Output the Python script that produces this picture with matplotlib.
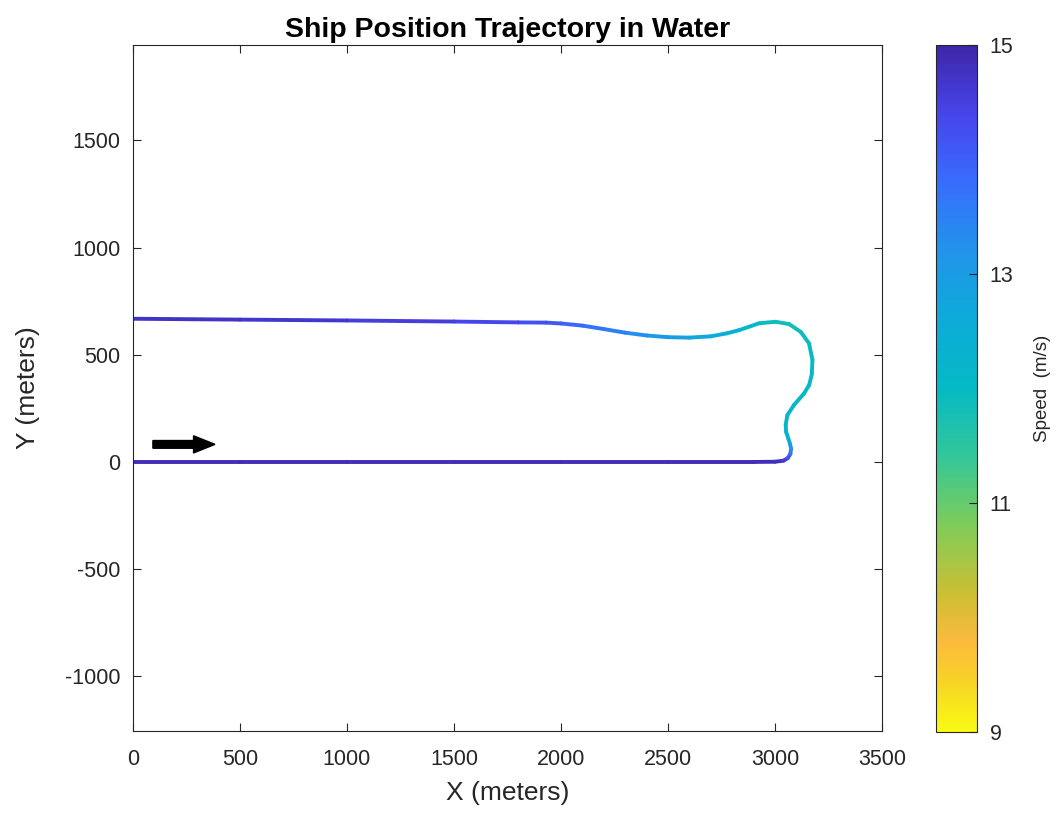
import numpy as np
import matplotlib
matplotlib.use("Agg")
import matplotlib.pyplot as plt
from matplotlib.collections import LineCollection
from matplotlib.colors import LinearSegmentedColormap, Normalize

plt.rcParams['font.family'] = ['Liberation Sans', 'DejaVu Sans']
plt.rcParams['axes.unicode_minus'] = False

# Trajectory (x, y in meters; speed in m/s)
x_pos = [0, 500, 1000, 1500, 2000, 2500, 2900, 3000, 3040, 3060, 3072, 3075, 3070, 3062,
         3052, 3050, 3058, 3089, 3136, 3160, 3172, 3175, 3159, 3120, 3066, 3003, 2926,
         2833, 2775, 2700, 2600, 2500, 2400, 2300, 2200, 2100, 2000, 1930,
         1800, 1500, 1000, 500, 0]
y_pos = [0, 0, 0, 0, 0, 0, 0, 1, 6, 18, 38, 62, 85, 110,
         140, 175, 219, 266, 320, 360, 410, 476, 553, 607, 643, 654, 647,
         615, 600, 586, 580, 582, 590, 603, 620, 636, 646, 650,
         651, 655, 660, 664, 668]
speed = [14.85, 14.85, 14.85, 14.85, 14.85, 14.85, 14.85, 14.85, 14.7, 14.45, 14.0, 13.4, 12.9, 12.5,
         12.25, 12.15, 12.1, 12.1, 12.1, 12.05, 12.0, 12.0, 11.95, 11.9, 11.85, 11.85, 11.95,
         12.15, 12.35, 12.55, 12.8, 13.0, 13.2, 13.4, 13.6, 13.8, 14.0, 14.15,
         14.3, 14.45, 14.6, 14.7, 14.75]

speed_min, speed_max = 9, 15
cbar_ticks = [9, 11, 13, 15]
x_ticks = [0, 500, 1000, 1500, 2000, 2500, 3000, 3500]
y_ticks = [-1000, -500, 0, 500, 1000, 1500]

# start-direction arrow
arrow_start = (93, 82)
arrow_dx = 290

parula_pts = [
    (0.00, (0.2422, 0.1504, 0.6603)),
    (0.10, (0.2760, 0.2700, 0.9200)),
    (0.20, (0.2200, 0.4300, 0.9900)),
    (0.30, (0.1300, 0.5800, 0.9200)),
    (0.40, (0.0500, 0.6700, 0.8500)),
    (0.50, (0.0200, 0.7300, 0.7700)),
    (0.60, (0.2000, 0.7800, 0.6000)),
    (0.70, (0.5000, 0.8000, 0.3500)),
    (0.80, (0.8000, 0.7500, 0.2000)),
    (0.87, (0.9900, 0.7300, 0.2400)),
    (0.93, (0.9700, 0.8300, 0.1500)),
    (1.00, (0.9769, 0.9839, 0.0805)),
]
parula = LinearSegmentedColormap.from_list('parula', parula_pts)
cmap = parula.reversed()
norm = Normalize(speed_min, speed_max)

fig = plt.figure(figsize=(10.6, 8.18), dpi=100)
ax = fig.add_axes([133/1060, 1-731/818, 749/1060, 686/818])

pts = np.column_stack([x_pos, y_pos])
segs = np.stack([pts[:-1], pts[1:]], axis=1)
seg_speed = 0.5*(np.array(speed[:-1]) + np.array(speed[1:]))
lc = LineCollection(segs, cmap=cmap, norm=norm, linewidths=2.8,
                    capstyle='round', joinstyle='round')
lc.set_array(seg_speed)
ax.add_collection(lc)

ax.arrow(arrow_start[0], arrow_start[1], arrow_dx, 0, width=36, head_width=80,
         head_length=100, length_includes_head=True, color='black')

ax.set_xlim(0, 3500)
ax.set_ylim(-1255, 1945)
ax.set_xticks(x_ticks)
ax.set_yticks(y_ticks)
ax.tick_params(direction='in', top=True, right=True, length=6, width=0.8,
               labelsize=15.5, colors='#262626', labelcolor='#262626', pad=9)
ax.tick_params(axis='x', pad=13)
for s in ax.spines.values():
    s.set_color('#262626')
    s.set_linewidth(0.8)
ax.set_xlabel('X (meters)', fontsize=19, color='#262626', labelpad=8)
ax.set_ylabel('Y (meters)', fontsize=19, color='#262626', labelpad=18)
ax.set_title('Ship Position Trajectory in Water', fontsize=20.5, fontweight='bold', pad=6)

cax = fig.add_axes([936/1060, 1-732/818, 41/1060, 687/818])
sm = matplotlib.cm.ScalarMappable(norm=norm, cmap=cmap)
cb = fig.colorbar(sm, cax=cax, ticks=cbar_ticks)
cb.outline.set_edgecolor('#262626')
cb.outline.set_linewidth(0.8)
cax.tick_params(direction='in', length=6, width=0.8, labelsize=15.5, colors='#262626', pad=9)
cb.set_label('Speed  (m/s)', fontsize=13.5, color='#262626', labelpad=15)

fig.savefig('out.png', dpi=100)
